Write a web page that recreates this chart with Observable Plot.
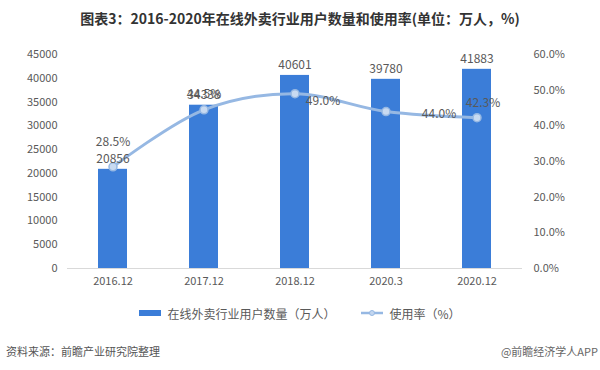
<!DOCTYPE html>
<html>
<head>
<meta charset="utf-8">
<script src="https://cdn.jsdelivr.net/npm/d3@7"></script>
<script src="https://cdn.jsdelivr.net/npm/@observablehq/plot@0.6"></script>
<style>
  body { margin: 0; background: #fff; font-family: "Noto Sans CJK SC", "Noto Sans", sans-serif; }
  #wrap { width: 600px; height: 370px; position: relative; overflow: hidden; }
  #title { height: 36px; line-height: 36px; text-align: center; font-size: 14px; font-weight: bold; color: #333; }
  #legend { height: 42px; display: flex; align-items: center; justify-content: center; font-size: 12px; color: #595959; gap: 26px; }
  .li { display: flex; align-items: center; gap: 6px; }
  #source { position: absolute; left: 6px; top: 343px; font-size: 11px; color: #555; }
  #credit { position: absolute; right: 2px; top: 343px; font-size: 11px; color: #666; }
</style>
</head>
<body>
<div id="wrap">
  <div id="title">图表3：2016-2020年在线外卖行业用户数量和使用率(单位：万人，%)</div>
  <div id="chart"></div>
  <div id="legend">
    <div class="li"><svg width="22" height="8"><rect x="0" y="1" width="22" height="6" fill="#3b7dd8"/></svg><span>在线外卖行业用户数量（万人）</span></div>
    <div class="li"><svg width="22" height="8"><line x1="0" y1="4" x2="22" y2="4" stroke="#96b8e3" stroke-width="2.5"/><circle cx="11" cy="4" r="2.5" fill="#c3d6f0" stroke="#96b8e3"/></svg><span>使用率（%）</span></div>
  </div>
  <div id="source">资料来源：前瞻产业研究院整理</div>
  <div id="credit">@前瞻经济学人APP</div>
</div>
<script>
const periods = ["2016.12", "2017.12", "2018.12", "2020.3", "2020.12"];
const users = [20856, 34338, 40601, 39780, 41883];
const rates = [28.5, 44.5, 49.0, 44.0, 42.3];
const leftTicks = [0, 5000, 10000, 15000, 20000, 25000, 30000, 35000, 40000, 45000];
const rightTicks = [0, 10, 20, 30, 40, 50, 60];

const yMax = 45000, rMax = 60;
const k = yMax / rMax;
const data = periods.map((p, i) => ({period: p, users: users[i], rate: rates[i], i}));

const font = "Noto Sans CJK SC, Noto Sans, sans-serif";
const gray = "#595959";
const lineColor = "#96b8e3";

// per-label offsets for the rate labels (styling)
const rateLabelOffsets = [[0, -25], [0, -16], [28, 7], [53, 3], [6, -14]];

const rateLabelMarks = rateLabelOffsets.map(([dx, dy], idx) =>
  Plot.text(data.filter(d => d.i === idx), {
    x: "period", y: d => d.rate * k, text: d => d.rate.toFixed(1) + "%",
    dx, dy, fill: gray, fontSize: 12, fontFamily: font
  })
);

const chart = Plot.plot({
  width: 600,
  height: 256,
  marginTop: 18,
  marginBottom: 24,
  marginLeft: 67,
  marginRight: 78,
  style: {fontFamily: font, fontSize: "11px", color: gray, background: "transparent"},
  x: {domain: periods, paddingInner: 0.68, paddingOuter: 0.34, label: null},
  y: {domain: [0, yMax], label: null},
  marks: [
    Plot.barY(data, {x: "period", y: "users", fill: "#3b7dd8"}),
    Plot.ruleY([0], {stroke: "#d9d9d9"}),
    Plot.axisX({tickSize: 0, tickPadding: 9, fontSize: 11, fill: gray, label: null}),
    Plot.axisY({ticks: leftTicks, tickSize: 0, tickPadding: 10, fontSize: 11, fill: gray, tickFormat: d => String(d), label: null}),
    Plot.axisY({anchor: "right", ticks: rightTicks.map(t => t * k), tickSize: 0, tickPadding: 11, fontSize: 11, fill: gray, textAnchor: "start", tickFormat: d => (d / k).toFixed(1) + "%", label: null}),
    Plot.line(data, {x: "period", y: d => d.rate * k, stroke: lineColor, strokeWidth: 3, curve: "catmull-rom"}),
    Plot.dot(data, {x: "period", y: d => d.rate * k, r: 4, fill: "#c8daf1", stroke: lineColor, strokeWidth: 1.5}),
    Plot.text(data, {x: "period", y: "users", text: d => String(d.users), dy: -10, fill: gray, fontSize: 12, fontFamily: font}),
    ...rateLabelMarks
  ]
});
document.getElementById("chart").appendChild(chart);
</script>
</body>
</html>
